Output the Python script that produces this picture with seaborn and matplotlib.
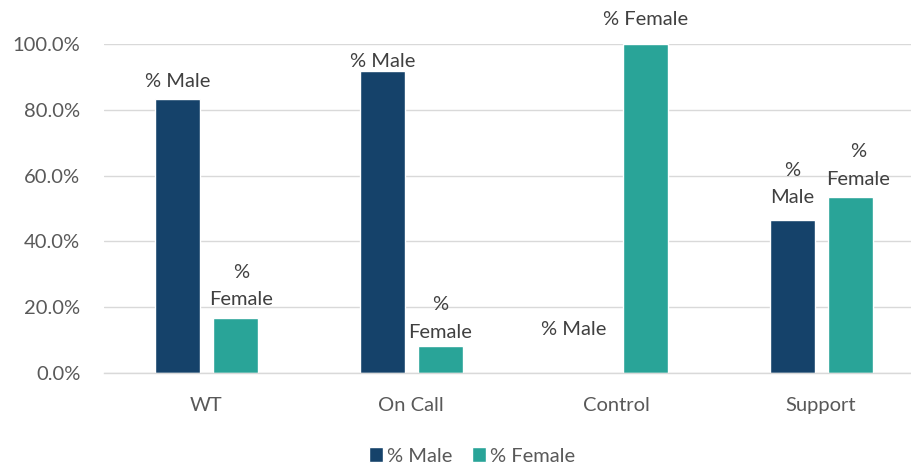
import matplotlib
matplotlib.use("Agg")
import matplotlib.pyplot as plt
from matplotlib.ticker import FuncFormatter
import pandas as pd
import seaborn as sns

# Data
categories = ["WT", "On Call", "Control", "Support"]
series = ["% Male", "% Female"]
male_pct = [83.3, 91.7, 0.0, 46.4]
female_pct = [16.7, 8.3, 100.0, 53.6]
y_ticks = [0, 20, 40, 60, 80, 100]

# Data-label text (wrapped where the label is narrow) and nudges in pixels
label_text = {
    "% Male": ["% Male", "% Male", "% Male", "%\nMale"],
    "% Female": ["%\nFemale", "%\nFemale", "% Female", "%\nFemale"],
}
label_dy = {"% Male": [12, 4, 38, 17], "% Female": [13, 8, 19, 12]}
label_dx = {"% Male": [0, 0, -14, 0], "% Female": [6, 0, 0, 8]}

df = pd.DataFrame({
    "category": categories * 2,
    "series": [series[0]] * 4 + [series[1]] * 4,
    "value": male_pct + female_pct,
})

colors = {"% Male": "#15426A", "% Female": "#29A498"}
text_col = "#404040"
tick_col = "#595959"
fs = 14.5

sns.set_theme(style="white")
plt.rcParams["font.family"] = ["Lato", "DejaVu Sans"]

W, H = 911, 471
fig = plt.figure(figsize=(W / 100, H / 100), dpi=100)
ax = fig.add_axes([104 / W, 98 / H, 819.5 / W, 329 / H])

sns.barplot(data=df, x="category", y="value", hue="series", order=categories,
            hue_order=series, palette=colors, width=0.566, gap=0.224,
            saturation=1, ax=ax, legend=True)

ax.set_xlim(-0.5, 3.5)
ax.set_ylim(0, 100)
ax.set_yticks(y_ticks)
ax.yaxis.set_major_formatter(FuncFormatter(lambda v, _: f"{v:.1f}%"))
ax.grid(axis="y", color="#D9D9D9", linewidth=1)
ax.set_axisbelow(True)
for s in ["left", "right", "top"]:
    ax.spines[s].set_visible(False)
ax.spines["bottom"].set_color("#D9D9D9")
ax.spines["bottom"].set_linewidth(1)
ax.tick_params(axis="both", length=0, labelsize=fs, colors=tick_col)
ax.tick_params(axis="x", pad=17)
ax.tick_params(axis="y", pad=17)
ax.set_xlabel("")
ax.set_ylabel("")

# Series-name data labels above each bar
for container, name in zip(ax.containers, series):
    for i, bar in enumerate(container):
        x = bar.get_x() + bar.get_width() / 2
        y = bar.get_height()
        ax.annotate(label_text[name][i], (x, y),
                    xytext=(label_dx[name][i], label_dy[name][i]),
                    textcoords="offset pixels", ha="center", va="baseline",
                    fontsize=fs, color=text_col, linespacing=1.75,
                    annotation_clip=False)

handles, labels = ax.get_legend_handles_labels()
ax.legend_.remove()
fig.legend(handles, labels, loc="center", bbox_to_anchor=(472 / W, 1 - 456 / H),
           ncol=2, frameon=False, fontsize=fs, labelcolor=tick_col,
           handlelength=0.7, handleheight=0.7, handletextpad=0.2,
           columnspacing=1.0)

fig.savefig("out.png", dpi=100)
